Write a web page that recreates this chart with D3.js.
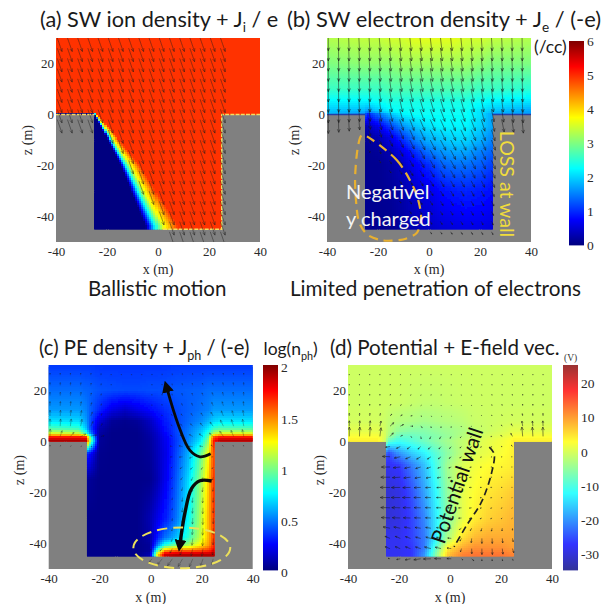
<!DOCTYPE html>
<html><head><meta charset="utf-8">
<script src="https://cdn.jsdelivr.net/npm/d3@7"></script>
<style>html,body{margin:0;padding:0;background:#fff}svg{display:block}</style>
</head><body><svg id="fig" width="603" height="604"></svg>
<script>
// ---------- geometry of the crater profile (metres)
const profileX = [-40,-25,-25,25,25,40,40,-40];
const profileZ = [0,0,-45,-45,0,0,30,30];
const xTicks = [-40,-20,0,20,40];
const zTicks = [20,0,-20,-40];

// ---------- (a) ion density: shadow edge position per height
const aEdgeZ = [0,-20,-44];
const aEdgeValues = [0.05,2.2,3.6,4.95];
const aEdgeStops = [
  [-24.6,-24.4,-24.2,-23.6],
  [-14.5,-12.8,-10.8,-7.0],
  [-4.5,-1.0,2.0,8.0]];
const aPlateau = 4.95;
const aFlow = [1.85,-5.3];

// ---------- (b) electron density /cc
const bX = [-40,-25,-24,-20,-15,-10,-5,0,5,10,15,20,25,40];
const bZ = [30,20,10,5,1,0,-5,-10,-15,-20,-30,-45];
const bN = [
 [3.3,3.4,3.4,3.4,3.5,3.5,3.6,3.6,3.6,3.6,3.5,3.5,3.4,3.3],
 [3.0,3.1,3.1,3.1,3.1,3.2,3.2,3.2,3.2,3.2,3.2,3.1,3.0,3.0],
 [2.6,2.6,2.6,2.6,2.7,2.7,2.7,2.7,2.7,2.7,2.7,2.6,2.6,2.5],
 [2.2,2.2,2.2,2.3,2.4,2.4,2.4,2.4,2.4,2.4,2.4,2.3,2.2,2.1],
 [1.9,1.8,1.6,1.9,2.2,2.3,2.3,2.3,2.3,2.3,2.3,2.1,1.9,1.7],
 [1.9,1.6,0.9,1.4,1.9,2.2,2.3,2.3,2.3,2.3,2.3,2.1,1.7,1.7],
 [0.3,0.3,0.3,0.6,1.1,1.6,1.9,2.1,2.2,2.2,2.2,2.0,1.7,1.7],
 [0.15,0.15,0.15,0.25,0.55,1.0,1.5,1.8,1.9,2.0,2.0,1.8,1.5,1.5],
 [0.1,0.1,0.1,0.15,0.3,0.6,1.0,1.4,1.6,1.7,1.7,1.5,1.3,1.3],
 [0.1,0.1,0.1,0.1,0.2,0.4,0.7,1.0,1.3,1.4,1.4,1.3,1.1,1.1],
 [0.1,0.1,0.1,0.1,0.15,0.25,0.45,0.6,0.8,0.9,0.95,0.9,0.8,0.8],
 [0.1,0.1,0.1,0.1,0.1,0.2,0.3,0.4,0.5,0.55,0.6,0.6,0.55,0.55]];
const bVecX = [-40,-25,-15,-5,5,15,25,40];
const bVecZ = [30,15,5,0,-10,-20,-30,-45];
const bVecU = [
 [0,0.3,0.5,0.6,0.6,0.5,0.3,0],
 [0,0.3,0.7,1.0,1.0,0.9,0.5,0.1],
 [0,0.3,1.0,1.5,1.5,1.3,0.8,0.2],
 [0,0.4,1.3,1.8,1.9,1.7,1.1,0.3],
 [0,0.4,1.2,1.9,2.1,2.0,1.5,0.3],
 [0,0.2,0.7,1.5,1.8,1.7,1.5,0.3],
 [0,0.1,0.4,0.9,1.2,1.2,1.1,0.3],
 [0,0.05,0.2,0.4,0.6,0.6,0.6,0.2]];
const bVecW = [
 [-5,-5,-5,-5,-5,-5,-5,-5],
 [-5,-5,-5,-5,-5,-5,-5,-5],
 [-5.2,-5,-5,-5,-5,-5,-5,-5.2],
 [-5.5,-4.5,-4.5,-4.5,-4.5,-4.5,-4.8,-5.5],
 [-5.5,-1,-2.5,-3.8,-4,-4,-4,-5.5],
 [-5.5,-0.4,-1,-2.5,-3,-3.2,-3.2,-5.5],
 [-5,-0.3,-0.5,-1.5,-2,-2,-2.2,-5],
 [-2,-0.1,-0.2,-0.7,-0.9,-1,-1.1,-2]];

// ---------- (c) photoelectron log density
const cX = [-40,-28,-25,-24,-20,-15,-10,-5,0,3,6,10,15,20,23,24,25,27,40];
const cZ = [30,20,12,8,5,3,1.5,0,-5,-15,-30,-38,-41,-43,-44.5];
const cN = [
 [.36,.36,.36,.36,.35,.35,.35,.35,.35,.35,.35,.36,.36,.36,.36,.36,.36,.36,.36],
 [.46,.46,.44,.44,.41,.40,.39,.39,.40,.40,.41,.42,.43,.44,.46,.46,.46,.46,.46],
 [.55,.55,.50,.45,.33,.20,.14,.20,.26,.30,.34,.39,.43,.47,.50,.52,.55,.55,.55],
 [.70,.68,.55,.45,.18,.05,.03,.05,.13,.22,.30,.38,.45,.52,.60,.63,.66,.70,.70],
 [.90,.85,.62,.45,.10,.03,.02,.03,.10,.18,.28,.38,.48,.60,.72,.78,.85,.90,.90],
 [1.2,1.15,.85,.60,.07,.02,.02,.02,.08,.15,.25,.38,.50,.65,.85,.95,1.1,1.2,1.2],
 [1.75,1.75,1.7,1.1,.05,.02,.02,.02,.07,.14,.23,.37,.50,.68,.95,1.3,1.6,1.75,1.75],
 [1.92,1.92,1.9,1.2,.05,.02,.02,.02,.06,.13,.22,.36,.52,.72,1.05,1.4,1.7,1.9,1.9],
 [.3,.3,.3,.3,.03,.02,.02,.02,.05,.12,.20,.38,.60,.95,1.25,1.45,1.6,1.6,1.6],
 [.05,.05,.05,.05,.02,.02,.02,.02,.03,.10,.22,.42,.68,1.05,1.35,1.5,1.65,1.65,1.65],
 [.02,.02,.02,.02,.02,.02,.02,.02,.10,.20,.30,.47,.75,1.1,1.4,1.5,1.65,1.65,1.65],
 [.02,.02,.02,.02,.02,.02,.02,.02,.08,.30,.48,.62,.85,1.15,1.4,1.5,1.65,1.65,1.65],
 [.02,.02,.02,.02,.02,.02,.02,.02,.05,.50,.85,1.0,1.1,1.3,1.45,1.55,1.7,1.7,1.7],
 [.02,.02,.02,.02,.02,.02,.02,.02,.05,.90,1.45,1.55,1.55,1.6,1.65,1.7,1.75,1.75,1.75],
 [.02,.02,.02,.02,.02,.02,.02,.02,.10,1.3,1.85,1.9,1.9,1.9,1.9,1.9,1.9,1.9,1.9]];
const cVecX = [-40,-28,-24,-15,-5,5,12,18,24,28,40];
const cVecZ = [30,15,5,2,-3,-10,-20,-30,-40,-46];
const cVecU = [
 [0,0,0,0,0,0,0,0,0,0,0],
 [0,.2,.3,0,0,-.1,-.3,-.4,-.5,-.4,0],
 [0,.5,1,0,0,-.2,-.8,-1,-1.3,-1.3,-.2],
 [0,2,2.5,0,0,-.3,-1,-1.5,-1.5,-1.5,-.2],
 [0,0,0,0,0,-.2,-1.5,-1.6,-.8,0,0],
 [0,0,0,0,0,-.1,-1,-.8,-.5,0,0],
 [0,0,0,0,0,0,-.2,-.2,-.1,0,0],
 [0,0,0,0,0,0,-.2,-.1,0,0,0],
 [0,0,0,0,0,-.3,-.6,-.3,-.1,0,0],
 [0,0,0,0,0,-2,-1.8,-1.2,-.6,0,0]];
const cVecW = [
 [.6,.6,.6,.5,.5,.5,.5,.6,.6,.6,.6],
 [1.5,1.5,1.2,.3,.2,.6,.9,1.1,1.3,1.5,1.5],
 [3,3,2,.1,.05,.3,.7,1,1.5,2.5,3],
 [3,1,.6,0,0,.2,.5,.8,1.2,2,3],
 [0,0,0,0,0,0,.3,-.3,.5,0,0],
 [0,0,0,0,0,-.1,-.6,-1,-.8,0,0],
 [0,0,0,0,0,-.1,-1.4,-2,-2,0,0],
 [0,0,0,0,0,-.2,-1.8,-2.6,-2.6,0,0],
 [0,0,0,0,0,-.3,-2.2,-3,-3,0,0],
 [0,0,0,0,0,-2.5,-3,-3.2,-2.5,0,0]];

// ---------- (d) potential (V)
const dX = [-40,-28,-25,-24,-20,-15,-10,-5,0,5,10,15,20,24,25,27,40];
const dZ = [30,15,8,4,2,0,-5,-10,-20,-30,-38,-42,-44.5];
const dV = [
 [-.7,-.7,-.7,-.7,-.7,-.7,-.7,-.7,-.7,-.7,-.7,-.7,-.7,-.7,-.7,-.7,-.7],
 [-.7,-.7,-.7,-.7,-.8,-1.2,-1.5,-1.5,-1.2,-.9,-.8,-.7,-.7,-.7,-.7,-.7,-.7],
 [-.3,-.3,-1,-1.5,-2.5,-3,-3.5,-3,-2.5,-2,-1,-.8,-.5,-.3,-.3,-.3,-.3],
 [1,1,-.5,-2,-5,-6,-6,-5,-4,-3,-1.5,-.8,0,.8,1,1,1],
 [2.5,2.5,0,-3,-8,-8,-7,-6,-4.5,-2.5,-1,0,.8,1.8,2.5,2.5,2.5],
 [4,4,-1,-8,-11,-9.5,-7.5,-5.5,-3.5,-1.5,0,1,2,3,4,4,4],
 [-22,-22,-22,-26,-20,-16,-13,-9,-5,-1.5,.5,1.5,2.5,3.5,4,4,4],
 [-28,-28,-28,-28,-27,-22,-17,-10,-3,.5,2,3,3.5,4,4.5,4.5,4.5],
 [-30,-30,-30,-30,-29,-25,-19,-12,-4,1,3,4.5,5.5,6.5,7,7,7],
 [-30,-30,-30,-30,-29,-26,-21,-13,-5,1,4,6,7,8,8,8,8],
 [-28,-28,-28,-28,-28,-26,-22,-13,-2,5,8,9,9,9,9,9,9],
 [-28,-28,-28,-28,-28,-27,-22,-8,5,9,11,11,11,10,10,10,10],
 [-28,-28,-28,-28,-28,-27,-20,-5,8,12,13,13,13,12,12,12,12]];
const dVecX = [-40,-28,-24,-18,-12,-6,0,6,12,18,24,28,40];
const dVecZ = [30,15,8,3,0,-5,-10,-20,-30,-38,-44,-47];
const dVecU = [
 [0,0,0,0,0,0,0,0,0,0,0,0,0],
 [0,0,.2,.3,.2,.1,0,-.1,-.1,-.1,-.1,0,0],
 [0,.2,.8,1,.6,.3,.2,-.1,-.2,-.2,-.3,-.2,0],
 [0,.5,2.5,1.5,.8,-.6,-.4,-.4,-.4,-.5,-.8,-.5,0],
 [0,0,-1,-1,-.8,-.8,-.6,-.6,-.6,-.5,-.5,0,0],
 [0,-3.5,-3,-2,-1.5,-1.2,-.8,-.6,-.5,-.4,-.4,-.3,0],
 [0,-3.5,-3.5,-2.5,-2,-1.5,-1,-.8,-.6,-.4,-.3,-.3,0],
 [0,-4,-4,-3.5,-2.8,-2,-1.5,-1,-.7,-.5,-.3,0,0],
 [0,-3.5,-3.5,-3,-2.5,-2,-1.5,-1,-.7,-.5,-.3,0,0],
 [0,-2,-2,-2,-2,-2,-1.5,-.3,0,.1,.3,0,0],
 [0,0,-2,-2,-2,-3,-2,.3,0,.2,.5,1.5,0],
 [0,0,0,-1.5,-3,-3,-2,2,0,0,0,0,0]];
const dVecW = [
 [.3,.3,.3,.3,.3,.3,.3,.3,.3,.3,.3,.3,.3],
 [.6,.6,.6,.4,.3,.4,.3,.3,.3,.5,.5,.6,.6],
 [1.2,1.2,.8,.3,-.3,-.4,-.3,-.1,.2,.4,.6,1,1.2],
 [3.5,3.5,2.5,.5,-.8,-1,-.8,-.4,-.2,.1,1,3.5,3.5],
 [4,4,-.5,-.9,-1,-1,-.8,-.5,-.3,-.2,.5,4,4],
 [0,0,.3,-.8,-1,-1,-.7,-.4,-.2,-.1,0,0,0],
 [0,0,0,-.4,-.6,-.5,-.4,-.2,-.1,0,0,0,0],
 [0,0,0,0,0,0,0,0,0,0,0,0,0],
 [0,0,.2,.1,.1,.1,0,-.1,-.3,-.3,-.3,0,0],
 [0,0,.8,.8,.5,.5,.3,-1.5,-2,-2,-1.5,0,0],
 [0,0,.7,.7,.7,.7,.5,-2,-2.5,-2.5,-2.2,1,0],
 [0,0,0,-1,-1,-.3,0,0,0,0,0,0,0]];

// ---------- colour bars
const bTicks = [0,1,2,3,4,5,6];
const cTicks = [0,0.5,1,1.5,2];
const dTicks = [-30,-20,-10,0,10,20];

// ---------- annotation paths (metres)
const negChargeLoop = [[-25.1,-8.2],[-12.5,-18],[-5.5,-29.8],[-3.1,-39.6],[-4.7,-46.3],[-10.2,-49],[-18,-49.4],[-24.3,-47],[-27.8,-40.8],[-29,-25.9],[-27.8,-12.2]];
const phUpArrow = [[23.5,-4.8],[19.3,-6],[15.4,-3.5],[10.7,6.9],[6.4,20.7]];
const phDownArrow = [[23.9,-15.5],[19.3,-15.4],[16,-18.5],[13.5,-27.6],[11.5,-40]];
const phEllipse = {cx:12.2,cz:-41.7,rx:19,rz:8};
const potentialWall = [[15.4,-2.2],[17.3,-4.8],[16.4,-11.9],[12.4,-23.6],[6.5,-32.9],[1.6,-41.3]];

// ---------- helpers
const jet = t => {
  const c = v => Math.max(0,Math.min(1,v));
  return [c(Math.min(4*t-1.5,-4*t+4.5)), c(Math.min(4*t-.5,-4*t+3.5)), c(Math.min(4*t+.5,-4*t+2.5))];
};
const rgb = (c,a=1) => d3.rgb(...c.map(v => 255*(a*v+1-a))).formatHex();
function sampler(xs,zs,M){
  const fx = d3.scaleLinear().domain(xs).range(d3.range(xs.length)).clamp(true);
  const fz = d3.scaleLinear().domain(zs).range(d3.range(zs.length)).clamp(true);
  return (x,z)=>{
    const i=fx(x), j=fz(z), i0=Math.min(Math.floor(i),xs.length-2), j0=Math.min(Math.floor(j),zs.length-2);
    const s=i-i0,t=j-j0;
    return (M[j0][i0]*(1-s)+M[j0][i0+1]*s)*(1-t)+(M[j0+1][i0]*(1-s)+M[j0+1][i0+1]*s)*t;
  };
}
const edgeIdx = d3.scaleLinear().domain(aEdgeZ).range(d3.range(aEdgeZ.length)).clamp(true);
function aStops(z){
  const k=edgeIdx(z), k0=Math.min(Math.floor(k),aEdgeZ.length-2), f=k-k0;
  return aEdgeStops[k0].map((v,n)=>v*(1-f)+aEdgeStops[k0+1][n]*f);
}
function aDensity(x,z){
  if(z>=0) return aPlateau;
  const st=aStops(z);
  if(x<st[0]) return 0;
  return d3.scaleLinear().domain(st).range(aEdgeValues).clamp(true)(x);
}
const bDensity=sampler(bX,bZ,bN), cDensity=sampler(cX,cZ,cN), dPotential=sampler(dX,dZ,dV);
const bU=sampler(bVecX,bVecZ,bVecU), bW=sampler(bVecX,bVecZ,bVecW);
const cU=sampler(cVecX,cVecZ,cVecU), cW=sampler(cVecX,cVecZ,cVecW);
const dU=sampler(dVecX,dVecZ,dVecU), dW=sampler(dVecX,dVecZ,dVecW);

const svg=d3.select('#fig');
const defs=svg.append('defs');
defs.append('filter').attr('id','soft').attr('x','-5%').attr('y','-5%').attr('width','110%').attr('height','110%')
  .append('feGaussianBlur').attr('stdDeviation',0.55);
const SIZE=204, STEP=0.8;
const serif='"Liberation Serif",serif', sans='Lato,"Open Sans",sans-serif';
const plain=d=>String(d);

function panel(cfg){
  const x=d3.scaleLinear().domain([-40,40]).range([cfg.left,cfg.left+SIZE]);
  const z=d3.scaleLinear().domain([30,-50]).range([cfg.top,cfg.top+SIZE]);
  const g=svg.append('g').attr('filter','url(#soft)');
  g.append('rect').attr('x',x(-40)).attr('y',z(30)).attr('width',SIZE).attr('height',SIZE).attr('fill','#808080');
  const clipId='clip'+cfg.id;
  defs.append('clipPath').attr('id',clipId).append('path')
    .attr('d',d3.line()(profileX.map((v,i)=>[x(v),z(profileZ[i])]))+'Z');
  const cells=[];
  for(const cx of d3.range(-40,40,STEP)) for(const cz of d3.range(30,-45.8,-STEP)){
    if(cz<=0 && (cx+STEP<-25 || cx>25)) continue;
    cells.push({x:cx,z:cz,v:cfg.field(cx+STEP/2,cz-STEP/2)});
  }
  g.append('g').attr('clip-path',`url(#${clipId})`).attr('shape-rendering','crispEdges').selectAll('rect').data(cells).join('rect')
    .attr('x',d=>Math.floor(x(d.x))).attr('y',d=>Math.floor(z(d.z)))
    .attr('width',4).attr('height',4)
    .attr('fill',d=>cfg.color(d.v));
  if(cfg.edges) cfg.edges(g,x,z);
  // quiver
  const arrows=[];
  for(let i=0;i<20;i++) for(let j=0;j<20;j++){
    const ax=-39.5+4*i, az=30-4*j;
    if(!cfg.start(ax,az)) continue;
    const [u,w]=cfg.vec(ax,az);
    const x0=x(ax),y0=z(az),x1=x(ax+u),y1=z(az+w);
    const len=Math.hypot(x1-x0,y1-y0);
    if(len<cfg.minLen) continue;
    arrows.push({x0,y0,x1,y1,len});
  }
  defs.append('clipPath').attr('id','frame'+cfg.id).append('rect').attr('x',x(-40)).attr('y',z(30)).attr('width',SIZE).attr('height',SIZE);
  g.append('g').attr('clip-path',`url(#${'frame'+cfg.id})`).selectAll('path').data(arrows).join('path')
    .attr('d',d=>{
      const ang=Math.atan2(d.y1-d.y0,d.x1-d.x0), h=Math.min(3.4,d.len*.4), a=.42;
      return `M${d.x0},${d.y0}L${d.x1},${d.y1}M${d.x1-h*Math.cos(ang-a)},${d.y1-h*Math.sin(ang-a)}L${d.x1},${d.y1}L${d.x1-h*Math.cos(ang+a)},${d.y1-h*Math.sin(ang+a)}`;
    })
    .attr('fill','none').attr('stroke','#1a1a1a').attr('stroke-width',cfg.arrowW).attr('stroke-opacity',cfg.arrowO);
  // axes
  const ax=svg.append('g').attr('transform',`translate(0,${z(-50)})`)
    .call(d3.axisBottom(x).tickValues(xTicks).tickSize(0).tickPadding(cfg.padX).tickFormat(plain));
  const ay=svg.append('g').attr('transform',`translate(${x(-40)},0)`)
    .call(d3.axisLeft(z).tickValues(zTicks).tickSize(0).tickPadding(2).tickFormat(plain));
  [ax,ay].forEach(s=>{s.select('.domain').remove();
    s.selectAll('text').style('font-family',serif).style('font-size','13px').attr('fill','#2a2a2a');});
  svg.append('text').attr('x',x(0)).attr('y',z(-50)+cfg.xLabelDy).attr('text-anchor','middle')
    .attr('font-family',serif).attr('font-size',14).attr('fill','#2a2a2a').text('x (m)');
  svg.append('text').attr('transform',`translate(${cfg.zLabelX},${cfg.zLabelY}) rotate(-90)`).attr('text-anchor','middle')
    .attr('font-family',serif).attr('font-size',14).attr('fill','#2a2a2a').text('z (m)');
  return {x,z};
}
const openStart=(x,z)=> (z>-3 && z<=30) || (x>-25 && x<26.5 && z>-47);

const jetB=d3.scaleLinear().domain([0,6]).range([0,1]);
const jetC=d3.scaleLinear().domain([0,2]).range([0,1]);
const jetD=d3.scaleLinear().domain([-34.5,25.3]).range([0,1]);

// Panel a
const pa=panel({id:'a',left:56,top:38,field:aDensity,color:v=>rgb(jet(jetB(v))),
  vec:()=>aFlow,minLen:1,arrowW:.8,arrowO:.55,padX:5,xLabelDy:32,zLabelX:32,zLabelY:140,
  start:(x,z)=>{ if(x<-25) return z>-3; if(x>26.5||z<-47) return false; return z>=0||x>aStops(z)[2]; },
  edges:(g,x,z)=>{
    [[[-40,0],[-25,0]],[[2,-45],[25,-45],[25,0],[40,0]]].forEach(seg=>
      g.append('path').attr('d',d3.line().x(d=>x(d[0])).y(d=>z(d[1]))(seg)).attr('fill','none')
       .attr('stroke','#f3dc60').attr('stroke-width',1.5).attr('stroke-dasharray','4 1.2'));
  }});
// Panel b
const pb=panel({id:'b',left:327,top:38,field:bDensity,color:v=>rgb(jet(jetB(v))),
  vec:(x,z)=>[bU(x,z),bW(x,z)],minLen:2.2,arrowW:.8,arrowO:.65,padX:5,xLabelDy:32,zLabelX:299,zLabelY:140,start:openStart,
  edges:(g,x,z)=>{
    [[[-40,0],[-25,0]],[[25,0],[40,0]]].forEach(seg=>
      g.append('path').attr('d',d3.line().x(d=>x(d[0])).y(d=>z(d[1]))(seg)).attr('fill','none')
       .attr('stroke','#2440a8').attr('stroke-width',1.6));
  }});
// Panel c
const pc=panel({id:'c',left:48.7,top:365,field:cDensity,color:v=>rgb(jet(jetC(v))),
  vec:(x,z)=>[cU(x,z),cW(x,z)],minLen:1,arrowW:.6,arrowO:.5,padX:5,xLabelDy:32.5,zLabelX:24,zLabelY:470,start:openStart});
// Panel d
const pd=panel({id:'d',left:348,top:365,field:dPotential,color:v=>rgb(jet(jetD(v)),.8),
  vec:(x,z)=>[dU(x,z),dW(x,z)],minLen:.4,arrowW:.7,arrowO:.75,padX:5,xLabelDy:32.5,zLabelX:324,zLabelY:470,
  start:(x,z)=>(z>=0&&z<=30)||(x>-25&&x<25&&z>-47)});

// colour bars
function colorbar(x0,y0,y1,dom,ticks,alpha,labelDy){
  const y=d3.scaleLinear().domain(dom).range([y1,y0]);
  const t=d3.scaleLinear().domain(dom).range([0,1]);
  const vals=d3.range(0,y1-y0).map(i=>y.invert(y0+i+.5));
  svg.append('g').selectAll('rect').data(vals).join('rect')
    .attr('x',x0).attr('y',d=>y(d)-.5).attr('width',15).attr('height',1.4)
    .attr('fill',d=>rgb(jet(t(d)),alpha));
  const a=svg.append('g').attr('transform',`translate(${x0+15},${labelDy})`)
    .call(d3.axisRight(y).tickValues(ticks).tickSize(0).tickPadding(3).tickFormat(plain));
  a.select('.domain').remove();
  a.selectAll('text').style('font-family',serif).style('font-size','13.5px').attr('fill','#2a2a2a');
}
colorbar(569,41,245,[0,6],bTicks,1,0);
colorbar(263,365,570,[0,2],cTicks,1,2.5);
colorbar(563,365,570,[-34.5,25.3],dTicks,.8,0);

// titles and captions
function label(x,y,parts,size,fill){
  const t=svg.append('text').attr('x',x).attr('y',y).attr('font-family',sans).attr('font-size',size).attr('fill',fill||'#1a1a1a');
  let sub=false;
  parts.forEach(p=>{
    const isSub=Array.isArray(p);
    const s=t.append('tspan').text(isSub?p[0]:p);
    if(isSub){s.attr('dy',5).attr('font-size',size*.62);sub=true;}
    else if(sub){s.attr('dy',-5);sub=false;}
  });
  return t;
}
label(40,27,['(a) SW ion density + J',['i'],' / e'],21.7);
label(287,27,['(b) SW electron density + J',['e'],' / (-e)'],21.9);
label(39,355,['(c) PE density + J',['ph'],' / (-e)'],20.3);
label(330,355,['(d) Potential + E-field vec.'],20.6);
label(88,296,['Ballistic motion'],20.5);
label(290,296,['Limited penetration of electrons'],20.7);
label(534,53,['(/cc)'],17.5);
label(263.5,354.5,['log(n',['ph'],')'],17.5);
svg.append('text').attr('x',564).attr('y',361).attr('font-family',serif).attr('font-size',9.5).attr('fill','#333').text('(V)');

// annotations
svg.append('path').attr('d',d3.line().x(d=>pb.x(d[0])).y(d=>pb.z(d[1])).curve(d3.curveCardinalClosed.tension(.2))(negChargeLoop))
  .attr('fill','none').attr('stroke','#e8b030').attr('stroke-width',2.2).attr('stroke-dasharray','9 6');
label(346,199,['Negativel'],20,'#f4f4f4');
label(346,226,['y charged'],20,'#f4f4f4');
svg.append('text').attr('transform',`translate(${pb.x(25)+7.5},184) rotate(90)`)
  .attr('text-anchor','middle').attr('font-family',sans).attr('font-size',19.5).attr('fill','#f0dc3c').text('LOSS at wall');

const headA=defs.append('marker').attr('id','headA').attr('markerUnits','userSpaceOnUse').attr('viewBox','0 0 10 10')
  .attr('refX',3).attr('refY',5).attr('markerWidth',12).attr('markerHeight',12).attr('orient','auto');
headA.append('path').attr('d','M0,0L10,5L0,10Z').attr('fill','#0a0a0a');
const lineC=d3.line().x(d=>pc.x(d[0])).y(d=>pc.z(d[1])).curve(d3.curveCatmullRom);
svg.append('path').attr('d',lineC(phUpArrow)).attr('fill','none').attr('stroke','#0a0a0a').attr('stroke-width',2.8).attr('marker-end','url(#headA)');
svg.append('path').attr('d',lineC(phDownArrow)).attr('fill','none').attr('stroke','#0a0a0a').attr('stroke-width',3.4).attr('marker-end','url(#headA)');
svg.append('ellipse').attr('cx',pc.x(phEllipse.cx)).attr('cy',pc.z(phEllipse.cz))
  .attr('rx',pc.x(phEllipse.rx)-pc.x(0)).attr('ry',pc.z(0)-pc.z(phEllipse.rz))
  .attr('fill','none').attr('stroke','#ece05a').attr('stroke-width',2).attr('stroke-dasharray','10 6');

svg.append('path').attr('d',d3.line().x(d=>pd.x(d[0])).y(d=>pd.z(d[1])).curve(d3.curveCatmullRom)(potentialWall))
  .attr('fill','none').attr('stroke','#222').attr('stroke-width',1.7).attr('stroke-dasharray','7 4');
svg.append('text').attr('transform',`translate(${pd.x(3.5)},${pd.z(-17.5)}) rotate(-71)`)
  .attr('text-anchor','middle').attr('dominant-baseline','middle').attr('font-family',sans).attr('font-size',20.5).attr('fill','#111').text('Potential wall');
</script></body></html>
